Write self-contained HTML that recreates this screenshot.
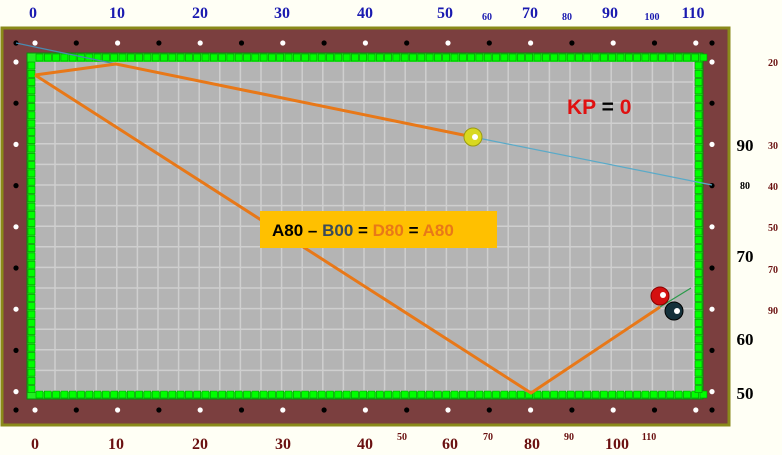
<!DOCTYPE html>
<html><head><meta charset="utf-8"><style>
html,body{margin:0;padding:0;background:#fffff5;}
svg{display:block;font-family:"Liberation Serif",serif;}
</style></head><body>
<svg id="c" width="782" height="455" viewBox="0 0 782 455">
<rect x="2" y="28" width="727" height="397" fill="#7b3f3f" stroke="#8a8a1a" stroke-width="3"/>
<rect x="27" y="53" width="676" height="346" fill="#22ee22" stroke="#0a8a0a" stroke-width="1"/>
<rect x="35" y="62" width="660" height="330" fill="#b4b4b4"/>
<g id="grid"></g>
<g id="cush"></g>
<g id="dots"></g>
<g id="labels"></g>
<g id="paths"></g>
<circle cx="473" cy="137" r="9" fill="#d8d820" stroke="#9a9a10"/>
<circle cx="475" cy="137" r="3" fill="#fff"/>
<circle cx="660" cy="296" r="9" fill="#d41010" stroke="#800"/>
<circle cx="663" cy="295" r="3" fill="#fff"/>
<circle cx="674" cy="311" r="9" fill="#14303a" stroke="#000"/>
<circle cx="677" cy="311" r="3" fill="#fff"/>
<rect x="260" y="211" width="237" height="37" fill="#ffc000"/>
<text x="272" y="236" font-family="Liberation Sans,sans-serif" font-weight="bold" font-size="17"><tspan fill="#000">A80 – </tspan><tspan fill="#3a4a5a">B00</tspan><tspan fill="#000"> = </tspan><tspan fill="#e87818">D80</tspan><tspan fill="#000"> = </tspan><tspan fill="#e87818">A80</tspan></text>
<text x="567" y="114" font-family="Liberation Sans,sans-serif" font-weight="bold" font-size="21"><tspan fill="#e01010">KP</tspan><tspan fill="#000"> = </tspan><tspan fill="#e01010">0</tspan></text>
</svg>
<script>
const NS="http://www.w3.org/2000/svg";
function mk(p,t,a){const e=document.createElementNS(NS,t);for(const k in a)e.setAttribute(k,a[k]);p.appendChild(e);return e;}
// data
const topLabels=["0","10","20","30","40","50","60","70","80","90","100","110"];
const topLabelX=[33,117,200,282,365,445,487,530,567,610,652,693];
const topLabelSmall=[0,0,0,0,0,0,1,0,1,0,1,0];
const botLabels=["0","10","20","30","40","50","60","70","80","90","100","110"];
const botLabelX=[35,116,200,283,365,402,450,488,532,569,617,649];
const botLabelSmall=[0,0,0,0,0,1,0,1,0,1,0,1];
const rightLabels=["90","80","70","60","50"];
const rightLabelY=[145,186,256,339,393];
const rightLabelSmall=[0,1,0,0,0];
const farLabels=["20","30","40","50","70","90"];
const farLabelY=[62,145,186,227,269,310];
const cuePath=[[35,75],[116,64],[473,137]];
const objPath=[[35,75],[531,393],[660,307]];
const aimLine1=[[16,43],[116,64]];
const aimLine2=[[473,137],[712,185]];
const aimLine3=[[660,307],[691,288]];

const g=document.getElementById('grid');
for(let x=55;x<695;x+=20.6){const l=mk(g,'line',{x1:x,y1:62,x2:x,y2:392,stroke:'#cfcfcf','stroke-width':1.5});

}
for(let y=82;y<392;y+=20.6){const l=mk(g,'line',{x1:35,y1:y,x2:695,y2:y,stroke:'#cfcfcf','stroke-width':1.5});

}
const cu=document.getElementById('cush');
for(let x=36;x<700;x+=8.3){[54,391].forEach(y=>{const r=mk(cu,'rect',{x:x,y:y,width:7,height:7,fill:'#00ff00',stroke:'#089008','stroke-width':0.6});

});}
for(let y=62;y<392;y+=8.3){[28,695].forEach(x=>{const r=mk(cu,'rect',{x:x,y:y,width:7,height:7,fill:'#00ff00',stroke:'#089008','stroke-width':0.6});

});}
const d=document.getElementById('dots');
function dot(x,y,w){const c=mk(d,'circle',{cx:x,cy:y,r:2.6,fill:w?'#fff':'#000'});

}
dot(16,43,0);dot(16,410,0);dot(712,43,0);dot(712,410,0);
for(let i=0;i<17;i++){const x=35+i*41.3;dot(x,43,i%2==0);dot(x,410,i%2==0);}
for(let i=0;i<9;i++){const y=62+i*41.2;dot(16,y,i%2==0);dot(712,y,i%2==0);}
const L=document.getElementById('labels');
function lab(x,y,t,fs,col,anchor){const e=mk(L,'text',{x:x,y:y,'font-size':fs,'font-weight':'bold',fill:col,'text-anchor':anchor||'middle'});e.textContent=t;

}
topLabels.forEach((t,i)=>lab(topLabelX[i],topLabelSmall[i]?20:18,t,topLabelSmall[i]?10:16,'#1a1ab0'));
botLabels.forEach((t,i)=>lab(botLabelX[i],botLabelSmall[i]?440:449,t,botLabelSmall[i]?10:16,'#6a1010'));
rightLabels.forEach((t,i)=>lab(745,rightLabelY[i]+(rightLabelSmall[i]?3:6),t,rightLabelSmall[i]?10:17,'#000'));
farLabels.forEach((t,i)=>lab(773,farLabelY[i]+4,t,10,'#6a1010'));
const P=document.getElementById('paths');
function pl(pts,col,w,name){const e=mk(P,'polyline',{points:pts.map(p=>p.join(',')).join(' '),fill:'none',stroke:col,'stroke-width':w,'stroke-linejoin':'round'});

}
pl(aimLine1,'#4a8ab0',1.2,'cue-aim-line');
pl(aimLine2,'#5aaac8',1.2,'ball1-aim-line');
pl(aimLine3,'#2a9a4a',1.2,'ball3-aim-line');
pl(cuePath,'#e87818',3,'cue-ball-path');
pl(objPath,'#e87818',3,'object-ball-path');
</script>
</body></html>
